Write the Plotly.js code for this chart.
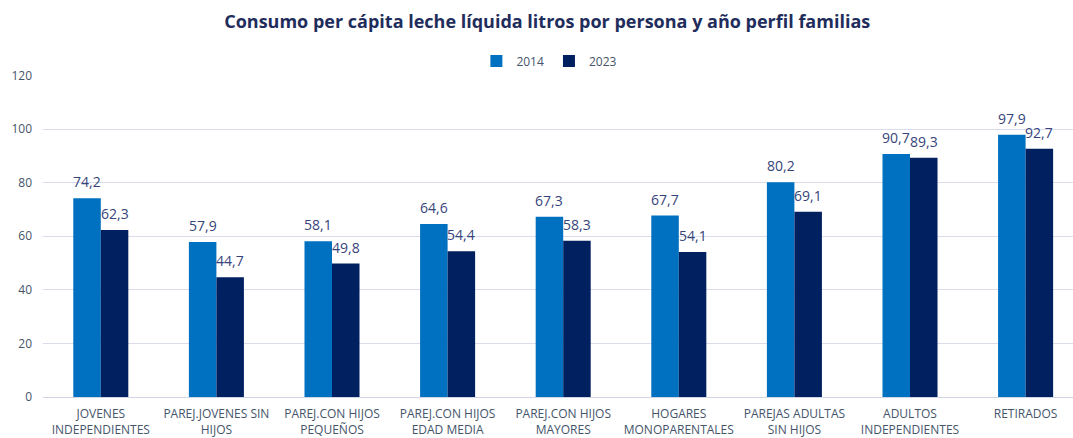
<!DOCTYPE html>
<html>
<head>
<meta charset="utf-8">
<script src="https://cdn.plot.ly/plotly-3.0.1.min.js"></script>
<style>html,body{margin:0;padding:0;background:#fff;}#chart{width:1073px;height:438px;}</style>
</head>
<body>
<div id="chart"></div>
<script>
const categories = [
  "JOVENES<br>INDEPENDIENTES",
  "PAREJ.JOVENES SIN<br>HIJOS",
  "PAREJ.CON HIJOS<br>PEQUEÑOS",
  "PAREJ.CON HIJOS<br>EDAD MEDIA",
  "PAREJ.CON HIJOS<br>MAYORES",
  "HOGARES<br>MONOPARENTALES",
  "PAREJAS ADULTAS<br>SIN HIJOS",
  "ADULTOS<br>INDEPENDIENTES",
  "RETIRADOS"
];
const values2014 = [74.2, 57.9, 58.1, 64.6, 67.3, 67.7, 80.2, 90.7, 97.9];
const values2023 = [62.3, 44.7, 49.8, 54.4, 58.3, 54.1, 69.1, 89.3, 92.7];
const seriesNames = ["2014", "2023"];
const yTicks = [0, 20, 40, 60, 80, 100, 120];

const fmt = v => v.toFixed(1).replace('.', ',');
const FONT = '"Open Sans", "Noto Sans", sans-serif';
const BARGAP = 0.524;

function mk(name, vals, color) {
  return {
    type: 'bar', name: name, x: categories, y: vals,
    marker: {color: color},
    hoverinfo: 'x+y'
  };
}

const data = [
  mk(seriesNames[0], values2014, '#0070C0'),
  mk(seriesNames[1], values2023, '#002060')
];

// plot width and category width to compute half-bar offset for labels
const plotW = 1073 - 43;
const catW = plotW / (8.41 + 0.5);
const barW = catW * (1 - BARGAP) / 2;

const annotations = [];
[values2014, values2023].forEach((vals, s) => {
  vals.forEach((v, i) => {
    annotations.push({
      x: categories[i], y: v, xref: 'x', yref: 'y',
      text: fmt(v), showarrow: false,
      xanchor: 'center', yanchor: 'bottom',
      xshift: (s === 0 ? -1 : 1) * barW / 2, yshift: 5,
      font: {family: FONT, size: 14, color: '#36447A'}
    });
  });
});

const layout = {
  width: 1073, height: 438,
  margin: {l: 43, r: 0, t: 75, b: 40.5},
  paper_bgcolor: '#fff', plot_bgcolor: '#fff',
  font: {family: FONT, color: '#44546A'},
  title: {
    text: '<b>Consumo per cápita leche líquida litros por persona y año perfil familias</b>',
    font: {family: FONT, size: 18, color: '#1F2D5C'},
    x: 0.51, xanchor: 'center', y: 0.95, yanchor: 'middle', yref: 'container', xref: 'container'
  },
  showlegend: true,
  legend: {
    orientation: 'h', x: 0.512, xref: 'container', xanchor: 'center',
    y: 1 - 61/438, yref: 'container', yanchor: 'middle',
    font: {family: FONT, size: 12, color: '#44546A'},
    itemwidth: 30, traceorder: 'normal', bgcolor: 'rgba(0,0,0,0)'
  },
  annotations: annotations,
  bargap: BARGAP, bargroupgap: 0,
  xaxis: {
    type: 'category', range: [-0.5, 8.41], fixedrange: true,
    tickfont: {family: FONT, size: 12, color: '#44546A'},
    showgrid: false, zeroline: false, showline: false, ticks: '', tickangle: 0,
    ticklabelstandoff: 8
  },
  yaxis: {
    range: [0, 120], tickvals: yTicks, ticktext: yTicks.map(String),
    tickfont: {family: FONT, size: 12, color: '#44546A'},
    showgrid: true, gridcolor: '#D9DDEB', gridwidth: 1,
    zeroline: true, zerolinecolor: '#D0D4E4', zerolinewidth: 1,
    showline: false, ticks: '', ticklabelstandoff: 10
  }
};

Plotly.newPlot('chart', data, layout, {displayModeBar: false, staticPlot: true});
</script>
</body>
</html>
